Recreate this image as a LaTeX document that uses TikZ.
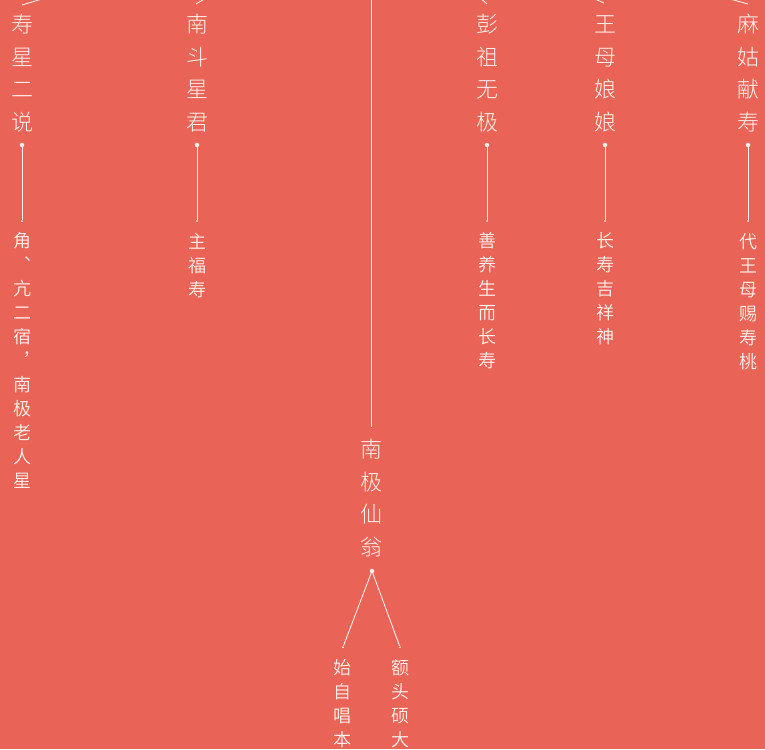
\documentclass[tikz,border=0pt]{standalone}
\usepackage{fontspec}
\newfontfamily\songf{Noto Sans CJK SC Light}
\newfontfamily\kaif{Noto Sans CJK SC DemiLight}
\definecolor{bgred}{RGB}{233,99,86}
\definecolor{ink}{RGB}{253,242,238}
\tikzset{
  ttl/.style={text=ink, font=\songf\fontsize{22}{22}\selectfont, inner sep=0pt, text height=19.36pt, text depth=2.64pt},
  sub/.style={text=ink, font=\kaif\fontsize{18}{18}\selectfont, inner sep=0pt, text height=15.84pt, text depth=2.16pt},
  link/.style={draw=ink, line width=0.9pt},
  bigdot/.style={circle, fill=ink, inner sep=0pt, minimum size=4.5pt},
  tinydot/.style={circle, fill=ink, inner sep=0pt, minimum size=2pt},
}
\newcommand\vcol[6]{\foreach \c [count=\i] in {#6} {\node[#5] (#1-\i) at (#2,{#3+(\i-1)*#4}) {\c};}}
\begin{document}
\begin{tikzpicture}[x=1pt,y=-1pt]
\useasboundingbox (0,0) rectangle (765,749);
\fill[bgred] (0,0) rectangle (765,749);
\clip (0,0) rectangle (765,749);
% hub above the picture and tops of the columns
\coordinate (hub) at (371,-100);
\coordinate (top1) at (22,5);
\coordinate (top2) at (196,4);
\coordinate (top3) at (487,4);
\coordinate (top4) at (604,3);
\coordinate (top5) at (748,4);
\foreach \k in {1,...,5} {\draw[link] (hub) -- (top\k);}
% titles
\vcol{ta}{22}{24}{32.7}{ttl}{寿,星,二,说}
\vcol{tb}{197}{24}{32.7}{ttl}{南,斗,星,君}
\vcol{tc}{487}{24}{32.7}{ttl}{彭,祖,无,极}
\vcol{td}{605}{24}{32.7}{ttl}{王,母,娘,娘}
\vcol{te}{748}{24}{32.7}{ttl}{麻,姑,献,寿}
% connectors
\foreach \n/\x in {a/22,b/197,c/487,d/605,e/748} {
  \node[bigdot] (d\n) at (\x,145) {};
  \node[tinydot] (e\n) at (\x,221) {};
  \draw[link] (d\n) -- (e\n);
}
% subtitles
\vcol{sa}{22}{241}{24}{sub}{角,︑,亢,二,宿,︐,南,极,老,人,星}
\vcol{sb}{197}{242}{24}{sub}{主,福,寿}
\vcol{sc}{487}{241}{24}{sub}{善,养,生,而,长,寿}
\vcol{sd}{605}{241}{24}{sub}{长,寿,吉,祥,神}
\vcol{se}{748}{242}{24}{sub}{代,王,母,赐,寿,桃}
% central
\coordinate (cend) at (371,427);
\draw[link] (hub) -- (cend);
\vcol{tm}{371}{449}{32.7}{ttl}{南,极,仙,翁}
\node[bigdot] (dm) at (372,571) {};
\node[tinydot] (el) at (343,647) {};
\node[tinydot] (er) at (400,647) {};
\draw[link] (dm) -- (el);
\draw[link] (dm) -- (er);
\vcol{sl}{342}{668}{24}{sub}{始,自,唱,本}
\vcol{sr}{400}{668}{24}{sub}{额,头,硕,大}
\end{tikzpicture}
\end{document}
